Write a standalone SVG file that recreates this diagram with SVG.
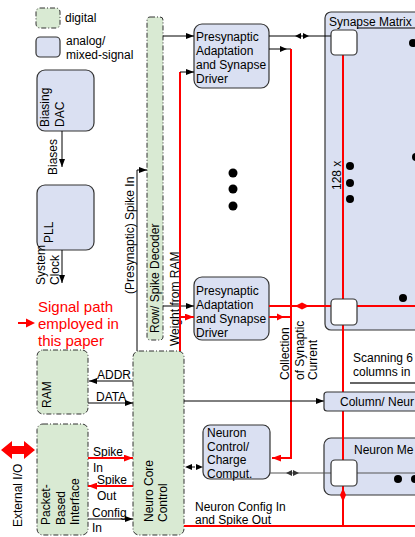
<svg xmlns="http://www.w3.org/2000/svg" width="415" height="537" viewBox="0 0 415 537">
<defs>
<style>
text{font-family:"Liberation Sans",Arial,sans-serif;font-size:12px;fill:#000}
.red{font-size:15px;fill:#ff0000}
.dig{fill:#d9ead3;stroke:#333;stroke-width:1;stroke-dasharray:5,2,1,2}
.ana{fill:#dae0f2;stroke:#333;stroke-width:1.2}
.cell{fill:#fff;stroke:#333;stroke-width:1.2}
.k{fill:none;stroke:#000;stroke-width:1}
.g{fill:none;stroke:#555;stroke-width:1.2}
.r{fill:none;stroke:#ff0000;stroke-width:2}
.dot{fill:#000}
</style>
<marker id="ak" viewBox="0 0 8 6" refX="8" refY="3" markerWidth="8" markerHeight="6" markerUnits="userSpaceOnUse" orient="auto"><path d="M0,0L8,3L0,6z" fill="#000"/></marker>
<marker id="ar" viewBox="0 0 8 6" refX="8" refY="3" markerWidth="9" markerHeight="7" markerUnits="userSpaceOnUse" orient="auto"><path d="M0,0L8,3L0,6z" fill="#ff0000"/></marker>
</defs>

<g id="legend">
<rect class="dig" x="36" y="8" width="24" height="20" rx="4"/>
<text x="65" y="22">digital</text>
<rect class="ana" x="36" y="37" width="24" height="20" rx="4"/>
<text x="66" y="45">analog/</text>
<text x="66" y="59">mixed-signal</text>
<text class="red" x="38" y="312">Signal path</text>
<text class="red" x="38" y="329">employed in</text>
<text class="red" x="38" y="346">this paper</text>
</g>

<g id="biasing-dac">
<rect class="ana" x="37" y="70" width="57" height="61" rx="8"/>
<text transform="translate(49,127) rotate(-90)">Biasing</text>
<text transform="translate(64,127) rotate(-90)">DAC</text>
</g>

<g id="pll">
<rect class="ana" x="37" y="185" width="57" height="65" rx="8"/>
<text transform="translate(53,243) rotate(-90)">PLL</text>
</g>

<g id="ram">
<rect class="dig" x="37" y="350" width="51" height="64" rx="6"/>
<text transform="translate(51,408) rotate(-90)">RAM</text>
</g>

<g id="packet-interface">
<rect class="dig" x="37" y="424" width="51" height="111" rx="6"/>
<text transform="translate(50,525) rotate(-90)">Packet-</text>
<text transform="translate(64.5,525) rotate(-90)">Based</text>
<text transform="translate(79,525) rotate(-90)">Interface</text>
</g>

<g id="neuro-core-control">
<rect class="dig" x="133" y="351" width="51" height="184" rx="6"/>
<text transform="translate(153,522) rotate(-90)">Neuro Core</text>
<text transform="translate(167,522) rotate(-90)">Control</text>
</g>

<g id="row-spike-decoder">
<rect class="dig" x="147" y="17" width="16" height="323" rx="3"/>
<text transform="translate(159,333) rotate(-90)">Row/ Spike Decoder</text>
</g>

<g id="pad1">
<rect class="ana" x="194" y="24" width="75" height="64" rx="8"/>
<text x="196" y="41">Presynaptic</text>
<text x="196" y="55">Adaptation</text>
<text x="196" y="69">and Synapse</text>
<text x="196" y="83">Driver</text>
</g>

<g id="pad2">
<rect class="ana" x="194" y="277" width="75" height="63" rx="8"/>
<text x="196" y="295">Presynaptic</text>
<text x="196" y="309">Adaptation</text>
<text x="196" y="323">and Synapse</text>
<text x="196" y="337">Driver</text>
</g>

<g id="pad-dots">
<circle class="dot" cx="233" cy="173" r="4.5"/>
<circle class="dot" cx="233" cy="189" r="4.5"/>
<circle class="dot" cx="233" cy="206" r="4.5"/>
</g>

<g id="synapse-matrix">
<rect class="ana" x="325" y="12" width="110" height="318" rx="6"/>
<text x="329" y="26">Synapse Matrix</text>
<text transform="translate(341,190) rotate(-90)">128 x</text>
<circle class="dot" cx="350" cy="166" r="4"/>
<circle class="dot" cx="350" cy="183" r="4"/>
<circle class="dot" cx="350" cy="199" r="4"/>
<circle class="dot" cx="413" cy="43" r="4"/>
<circle class="dot" cx="416" cy="157" r="4"/>
<circle class="dot" cx="403" cy="298" r="4"/>
</g>

<g id="neuron-control">
<rect class="ana" x="203" y="425" width="67" height="54" rx="7"/>
<text x="207" y="437">Neuron</text>
<text x="207" y="450.5">Control/</text>
<text x="207" y="464">Charge</text>
<text x="207" y="477.5">Comput.</text>
</g>

<g id="neuron-memory">
<rect class="ana" x="324" y="438" width="110" height="57" rx="7"/>
<text x="354" y="454">Neuron Me</text>
</g>

<g id="labels">
<text transform="translate(57,175) rotate(-90)">Biases</text>
<text transform="translate(45,285) rotate(-90)">System</text>
<text transform="translate(59,285) rotate(-90)">Clock</text>
<text transform="translate(22,527) rotate(-90)">External I/O</text>
<text transform="translate(134,294) rotate(-90)">(Presynaptic) Spike In</text>
<text transform="translate(179,346) rotate(-90)">Weight from RAM</text>
<text transform="translate(289,380) rotate(-90)">Collection</text>
<text transform="translate(303.5,380) rotate(-90)">of Synaptic</text>
<text transform="translate(317,380) rotate(-90)">Current</text>
<text x="97" y="379">ADDR</text>
<text x="96" y="401">DATA</text>
<text x="93" y="456">Spike</text>
<text x="93" y="472">In</text>
<text x="97" y="484">Spike</text>
<text x="97" y="500">Out</text>
<text x="92" y="517">Config</text>
<text x="92" y="532">In</text>
<text x="353" y="362">Scanning 6</text>
<text x="353" y="376">columns in</text>
<text x="195" y="511">Neuron Config In</text>
<text x="195" y="524">and Spike Out</text>
</g>

<g id="connectors">
<line class="k" x1="62" y1="131" x2="62" y2="167" marker-end="url(#ak)"/>
<line class="k" x1="62" y1="250" x2="62" y2="283" marker-end="url(#ak)"/>
<line class="k" x1="133" y1="381" x2="89" y2="381" marker-end="url(#ak)"/>
<line class="k" x1="88" y1="403" x2="133" y2="403" marker-end="url(#ak)"/>
<line class="r" x1="88" y1="458" x2="133" y2="458" marker-end="url(#ar)"/>
<line class="r" x1="133" y1="486" x2="88" y2="486" marker-end="url(#ar)"/>
<line class="k" x1="88" y1="519" x2="133" y2="519" marker-end="url(#ak)"/>
<path class="k" d="M137,351V170H147" marker-end="url(#ak)"/>
<line class="k" x1="163" y1="36" x2="194" y2="36" marker-end="url(#ak)"/>
<line class="k" x1="163" y1="306" x2="194" y2="306" marker-end="url(#ak)"/>
<path class="r" d="M180,351V72"/>
<line class="k" x1="180" y1="72" x2="194" y2="72" marker-end="url(#ak)"/>
<line class="r" x1="180" y1="317" x2="194" y2="317" marker-end="url(#ar)"/>
<line class="k" x1="269" y1="36" x2="331" y2="36"/>
<path d="M295,36l6,-3v6z M309,36l-6,-3v6z" fill="#000"/>
<line class="k" x1="357" y1="28" x2="415" y2="28"/>
<line class="k" x1="269" y1="49" x2="291" y2="49"/>
<path d="M287,49l-7,-3v6z" fill="#000"/>
<path class="r" d="M291,49V458H272" marker-end="url(#ar)"/>
<line class="r" x1="269" y1="306" x2="331" y2="306"/>
<path d="M295,306l7,-3.5v7z M309,306l-7,-3.5v7z" fill="#ff0000"/>
<line class="r" x1="357" y1="306" x2="415" y2="306"/>
<line class="r" x1="269" y1="317" x2="291" y2="317"/>
<path d="M284,317l-7,-3.5v7z" fill="#ff0000"/>
<line class="r" x1="343" y1="55" x2="343" y2="299"/>
<line class="r" x1="343" y1="325" x2="343" y2="526"/>
<line class="r" x1="184" y1="526" x2="415" y2="526"/>
<path d="M343,488l-3,7h6z M343,502l-3,-7h6z" fill="#ff0000"/>
<line class="k" x1="184" y1="401" x2="324" y2="401" marker-end="url(#ak)"/>
<line class="k" x1="192" y1="467" x2="195" y2="467"/>
<path d="M185,467l7,-3v6z M203,467l-7,-3v6z" fill="#000"/>
<line class="g" x1="270" y1="473" x2="331" y2="473"/>
<path d="M286,473l6,-3v6z M299,473l-6,-3v6z" fill="#333"/>
<line class="g" x1="357" y1="473" x2="415" y2="473"/>
<line x1="350" y1="383" x2="415" y2="383" stroke="#333" stroke-width="1.5"/>
<line class="r" x1="18" y1="323" x2="28" y2="323"/>
<path d="M35,323l-9,-4.5v9z" fill="#ff0000"/>
<path d="M1,450L12,441V446H24V441L35,450L24,459V454H12V459Z" fill="#ff0000"/>
</g>

<g id="synapse-cells">
<rect class="cell" x="331" y="30" width="26" height="25" rx="4"/>
<rect class="cell" x="331" y="299" width="26" height="26" rx="4"/>
<rect class="cell" x="331" y="460" width="26" height="26" rx="4"/>
<circle class="dot" cx="398" cy="479" r="4"/>
<circle class="dot" cx="415" cy="479" r="4"/>
</g>

<g id="column-neuron">
<rect class="ana" x="324" y="392" width="110" height="19" rx="3"/>
<text x="340" y="406">Column/ Neur</text>
</g>
</svg>
